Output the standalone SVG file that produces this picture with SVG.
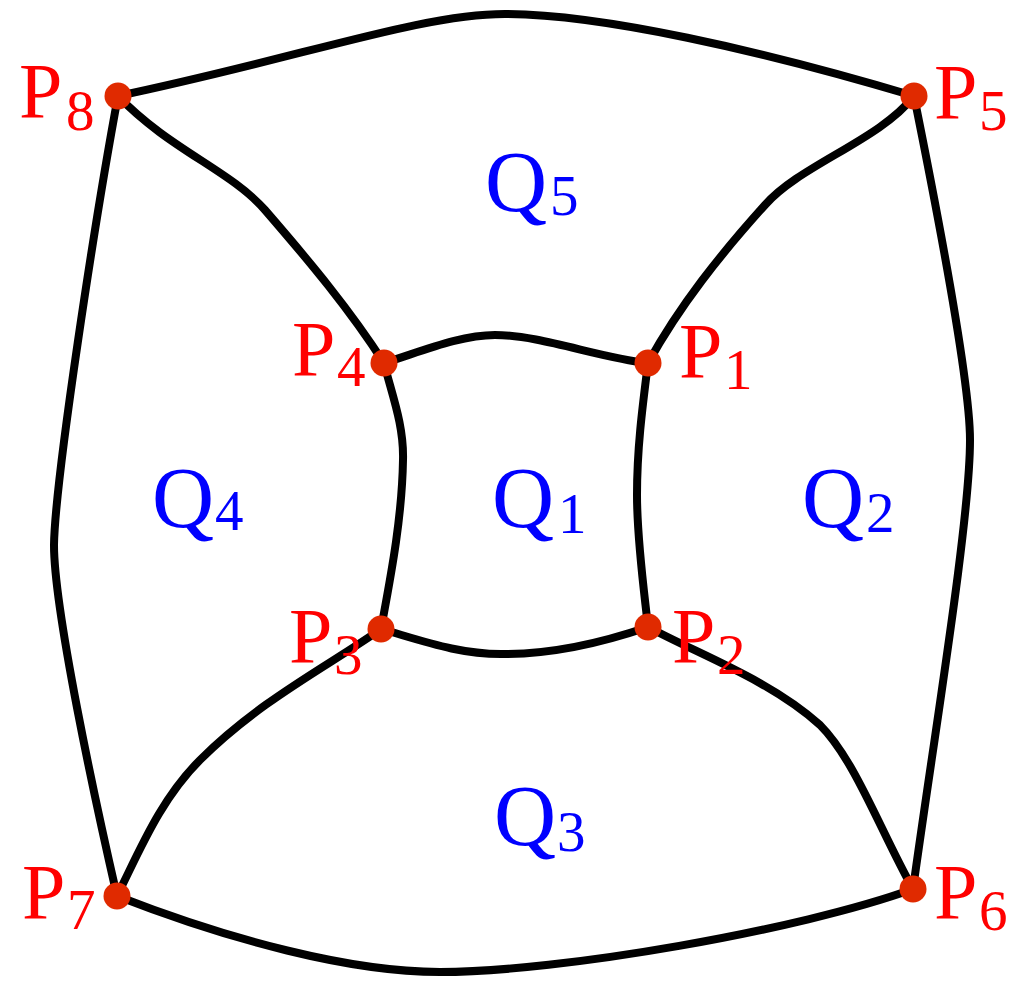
<svg xmlns="http://www.w3.org/2000/svg" width="1034" height="987" viewBox="0 0 1034 987">
<style>
.e{fill:none;stroke:#000;stroke-width:8;stroke-linecap:round;stroke-linejoin:round}
.d{fill:#e02a00}
.p{fill:#ff0000;font-family:"Liberation Serif",serif;font-size:78px}
.q{fill:#0000ff;font-family:"Liberation Serif",serif;font-size:86px}
.s{font-size:57px}
</style>
<rect width="1034" height="987" fill="#fff"/>
<g id="connectors">
<path class="e" d="M118,96 C300,58 420,14 505,14 C600,14 760,50 914,96"/>
<path class="e" d="M117,896 C230,940 350,972 440,972 C560,972 800,930 913,889"/>
<path class="e" d="M118,96 C95,220 55,480 54,545 C54,610 95,800 117,896"/>
<path class="e" d="M914,96 C935,200 970,380 970,440 C970,520 935,730 913,889"/>
<path class="e" d="M118,96 C170,150 230,170 265,210 C310,262 350,310 384,363"/>
<path class="e" d="M914,96 C880,140 800,165 765,205 C720,255 680,305 648,363"/>
<path class="e" d="M117,896 C140,850 160,800 200,760 C260,700 330,665 381,629"/>
<path class="e" d="M913,889 C880,830 855,760 820,725 C770,680 700,655 648,627"/>
<path class="e" d="M384,363 C420,352 460,335 495,335 C540,335 600,358 648,363"/>
<path class="e" d="M384,363 C392,395 404,425 403,460 C402,520 390,580 381,629"/>
<path class="e" d="M648,363 C642,410 637,450 637,495 C637,540 644,590 648,627"/>
<path class="e" d="M381,629 C420,640 460,655 505,654 C560,654 610,640 648,627"/>
</g>
<g id="P1"><circle class="d" cx="648" cy="363" r="13.5"/><text class="p" x="679" y="377">P<tspan class="s" x="724" y="389">1</tspan></text></g>
<g id="P2"><circle class="d" cx="648" cy="627" r="13.5"/><text class="p" x="672" y="662">P<tspan class="s" x="717" y="674">2</tspan></text></g>
<g id="P3"><circle class="d" cx="381" cy="629" r="13.5"/><text class="p" x="289" y="662">P<tspan class="s" x="334" y="674">3</tspan></text></g>
<g id="P4"><circle class="d" cx="384" cy="363" r="13.5"/><text class="p" x="292" y="375">P<tspan class="s" x="337" y="386">4</tspan></text></g>
<g id="P5"><circle class="d" cx="914" cy="96" r="13.5"/><text class="p" x="934" y="118">P<tspan class="s" x="979" y="130">5</tspan></text></g>
<g id="P6"><circle class="d" cx="913" cy="889" r="13.5"/><text class="p" x="934" y="918">P<tspan class="s" x="979" y="930">6</tspan></text></g>
<g id="P7"><circle class="d" cx="117" cy="896" r="13.5"/><text class="p" x="22" y="918">P<tspan class="s" x="67" y="929">7</tspan></text></g>
<g id="P8"><circle class="d" cx="118" cy="96" r="13.5"/><text class="p" x="19" y="117">P<tspan class="s" x="66" y="130">8</tspan></text></g>
<g id="Q1"><text class="q" x="492" y="527">Q<tspan class="s" x="558" y="533">1</tspan></text></g>
<g id="Q2"><text class="q" x="802" y="527">Q<tspan class="s" x="866" y="532">2</tspan></text></g>
<g id="Q3"><text class="q" x="494" y="845">Q<tspan class="s" x="557" y="851">3</tspan></text></g>
<g id="Q4"><text class="q" x="152" y="527">Q<tspan class="s" x="215" y="530">4</tspan></text></g>
<g id="Q5"><text class="q" x="485" y="211">Q<tspan class="s" x="550" y="215">5</tspan></text></g>
</svg>
